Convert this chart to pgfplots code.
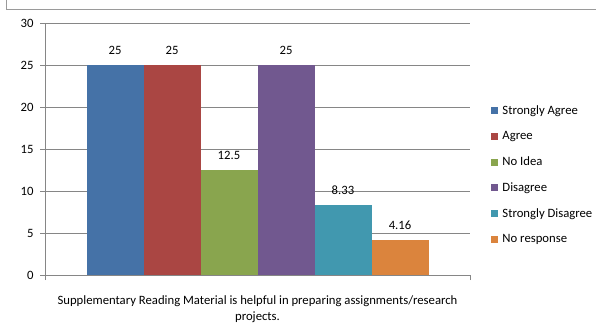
\documentclass[border=0pt]{standalone}
\usepackage{pgfplots}
\pgfplotsset{compat=1.18}
\usepackage{fontspec}
\setmainfont{Carlito}

\definecolor{sagree}{HTML}{4572A7}
\definecolor{agree}{HTML}{AA4643}
\definecolor{noidea}{HTML}{89A54E}
\definecolor{disagree}{HTML}{71588F}
\definecolor{sdisagree}{HTML}{4198AF}
\definecolor{noresp}{HTML}{DB843D}
\definecolor{gridgray}{HTML}{868686}
\definecolor{framegray}{HTML}{9A9A9A}

\begin{document}
\begin{tikzpicture}[x=1bp,y=1bp]
\useasboundingbox (0,0) rectangle (596,333);
% chart frame (top and left edges)
\draw[framegray, line width=0.8bp] (6,333) -- (6,324) -- (596,324);
\begin{axis}[
  at={(45bp,58bp)}, anchor=south west,
  scale only axis, width=425bp, height=252bp,
  ymin=0, ymax=30, ytick={0,5,...,30},
  xmin=-0.5, xmax=0.5,
  xtick={-0.5,0.5}, xticklabels={},
  extra x ticks={0},
  extra x tick labels={Supplementary Reading Material is helpful in preparing assignments/research\\projects.},
  extra x tick style={major tick length=0pt, grid=none,
    tick label style={align=center, yshift=-17bp}},
  axis x line=bottom, axis y line=left,
  axis line style={gridgray, -},
  every tick/.style={gridgray, thin},
  tick align=outside, major tick length=5bp,
  ymajorgrids, major grid style={gridgray, thin},
  ybar=0pt, bar width=57bp,
  font=\fontsize{12.7bp}{16bp}\selectfont,
  tick label style={font=\fontsize{12.7bp}{16bp}\selectfont, black},
  yticklabel style={xshift=-3bp},
  /pgf/number format/assume math mode=true,
  nodes near coords,
  nodes near coords style={font=\fontsize{12.7bp}{15bp}\selectfont, black, yshift=7bp},
  point meta=explicit symbolic,
  legend style={at={(1.043,0.688)}, anchor=north west, draw=none,
    font=\fontsize{12.7bp}{15bp}\selectfont, row sep=11.6bp,
    /tikz/every even column/.append style={column sep=0pt}},
  legend cell align=left,
  legend image code/.code={\fill[#1] (0bp,-3.5bp) rectangle (7bp,3.5bp); \path (9bp,0bp);},
]
\addplot[fill=sagree, draw=none] coordinates {(0,25) [25]};
\addplot[fill=agree, draw=none] coordinates {(0,25) [25]};
\addplot[fill=noidea, draw=none] coordinates {(0,12.5) [12.5]};
\addplot[fill=disagree, draw=none] coordinates {(0,25) [25]};
\addplot[fill=sdisagree, draw=none] coordinates {(0,8.33) [8.33]};
\addplot[fill=noresp, draw=none] coordinates {(0,4.16) [4.16]};
\legend{Strongly Agree, Agree, No Idea, Disagree, Strongly Disagree, No response}
\end{axis}
\end{tikzpicture}
\end{document}
